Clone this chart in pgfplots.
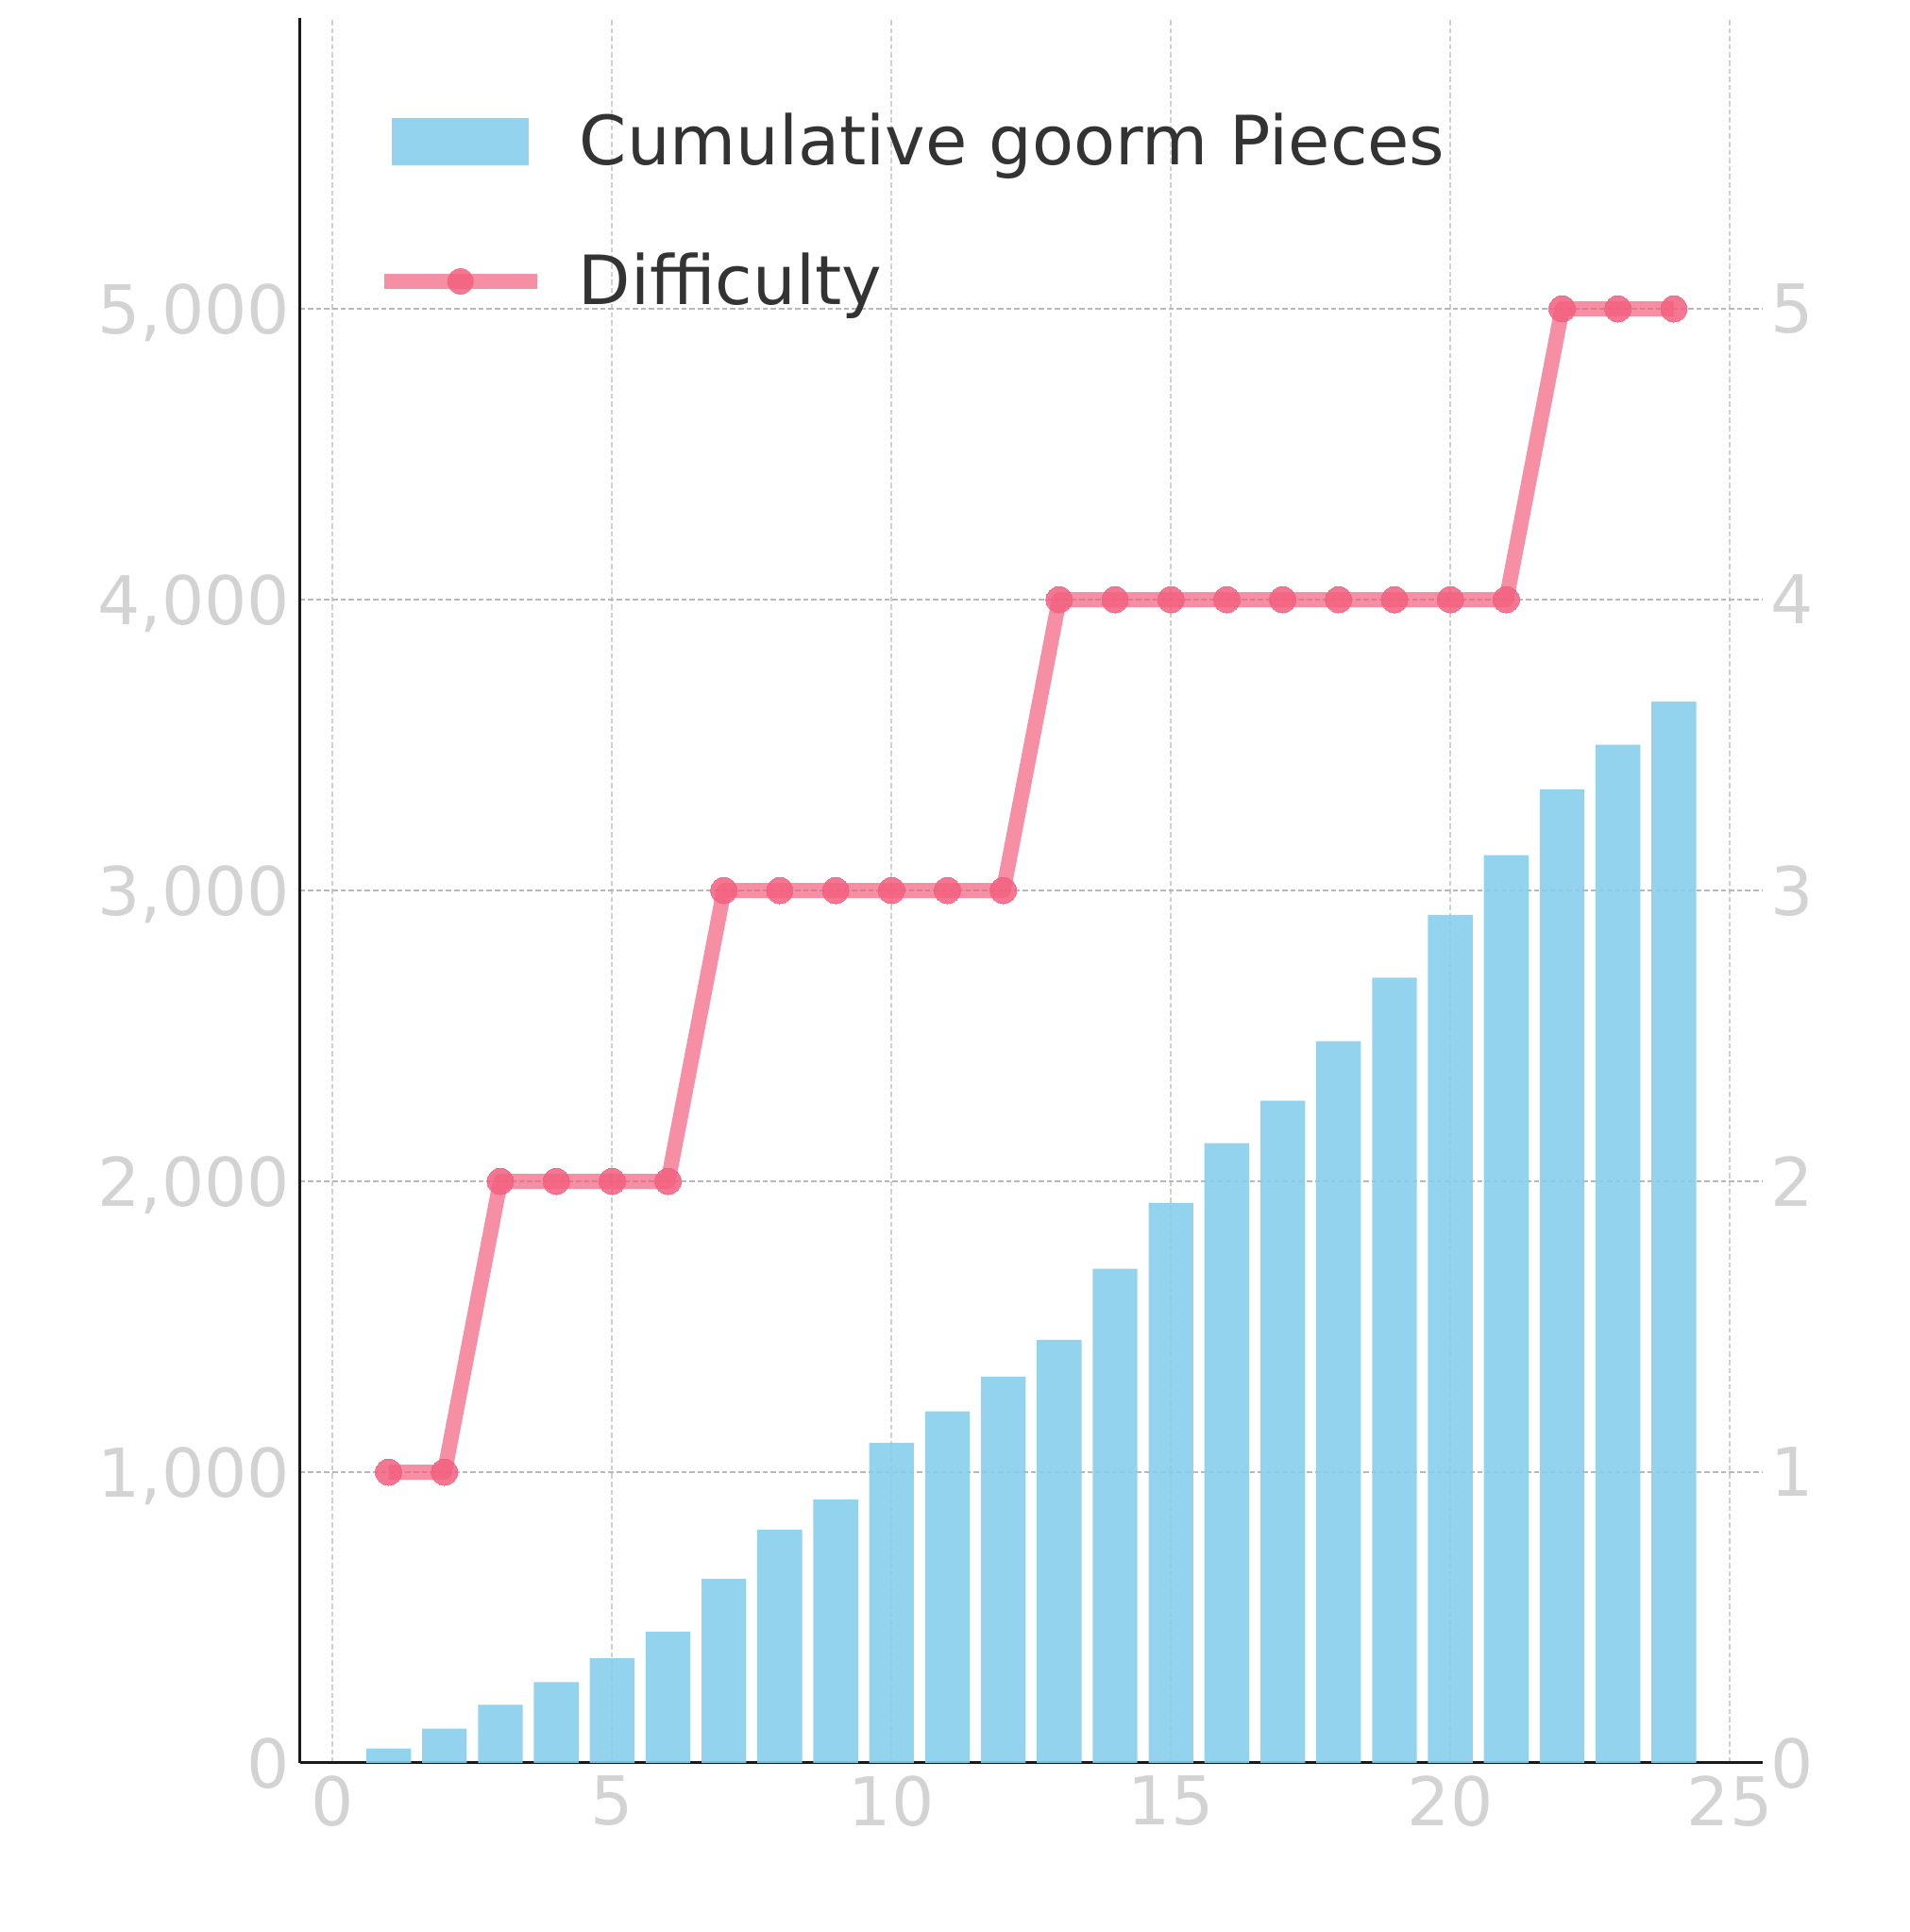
\documentclass[border=0pt]{standalone}
\usepackage{fontspec}
\setmainfont{DejaVu Sans}
\usepackage{pgfplots}
\pgfplotsset{compat=1.18}
\definecolor{barblue}{HTML}{87CEEB}
\definecolor{pinkc}{HTML}{F25F7E}
\definecolor{ticklbl}{HTML}{D3D3D3}
\definecolor{txt}{HTML}{333333}
\definecolor{vgrid}{HTML}{CFCFCF}
\definecolor{hgrid}{HTML}{B8B8B8}
\definecolor{spine}{HTML}{1A1A1A}
\begin{document}
\begin{tikzpicture}
\path[use as bounding box] (0,0) rectangle (505.75pt,511.5pt);
\pgfplotsset{
  common/.style={
    at={(79.375pt,44.75pt)}, anchor=south west,
    scale only axis, width=387.375pt, height=462pt,
    xmin=-0.59, xmax=25.59,
    major tick length=0pt,
    tick label style={font=\fontsize{17.8}{21}\selectfont, text=ticklbl},
    /pgf/number format/assume math mode=true,
  }
}
\begin{axis}[common,
  ymin=0, ymax=6000,
  axis x line*=bottom, axis y line*=left,
  axis line style={-, line width=0.75pt, draw=spine},
  xtick={0,5,...,25}, ytick={0,1000,...,5000},
  xmajorgrids, ymajorgrids,
  x grid style={vgrid, line width=0.5pt, dash pattern=on 1.4pt off 0.75pt},
  y grid style={hgrid, line width=0.5pt, dash pattern=on 1.4pt off 0.75pt},
  yticklabel style={anchor=east, inner sep=0pt, xshift=-2.4pt, text depth=0pt},
  xticklabel style={anchor=north, inner sep=0pt, yshift=-3.2pt},
  /pgf/number format/1000 sep={,},
  scaled y ticks=false,
  legend style={at={(0.0623,0.9291)}, anchor=west, draw=none, fill=none,
    inner sep=0pt, font=\fontsize{18}{21}\selectfont, text=txt,
    nodes={inner sep=0pt},
    /tikz/every odd column/.append style={column sep=13.5pt}},
  legend cell align=left,
]
\addplot[ybar, bar width=0.8, fill=barblue, fill opacity=0.9, draw=none,
  legend image code/.code={\fill[barblue, fill opacity=0.9] (0pt,-6.25pt) rectangle (36.25pt,6.25pt);}]
coordinates {
(1,50) (2,118) (3,200) (4,278) (5,360) (6,452) (7,633) (8,802) (9,906) (10,1100)
(11,1209) (12,1328) (13,1455) (14,1699) (15,1926) (16,2131) (17,2277) (18,2482)
(19,2700) (20,2916) (21,3121) (22,3348) (23,3501) (24,3650)
};
\addlegendentry{Cumulative goorm Pieces}
\end{axis}
\begin{axis}[common,
  ymin=0, ymax=6,
  axis x line=none, axis y line*=right,
  y axis line style={draw=none},
  ytick={0,1,2,3,4,5},
  yticklabel style={anchor=west, inner sep=0pt, xshift=2pt, text depth=0pt},
  legend style={at={(0.0519,0.8490)}, anchor=west, draw=none, fill=none,
    inner sep=0pt, font=\fontsize{18}{21}\selectfont, text=txt,
    nodes={inner sep=0pt},
    /tikz/every odd column/.append style={column sep=9pt}},
  legend cell align=left,
]
\addplot[pinkc, line width=4pt, draw opacity=0.7, line join=round,
  mark=*, mark size=3.5pt,
  mark options={draw=none, line width=0pt, fill=pinkc, fill opacity=0.85},
  legend image code/.code={\draw[pinkc, line width=4pt, draw opacity=0.7] (0pt,0pt) -- (40.5pt,0pt); \path[draw=none, line width=0pt, fill=pinkc, fill opacity=0.85] (20.25pt,0pt) circle[radius=3.5pt];}]
coordinates {
(1,1) (2,1) (3,2) (4,2) (5,2) (6,2) (7,3) (8,3) (9,3) (10,3) (11,3) (12,3)
(13,4) (14,4) (15,4) (16,4) (17,4) (18,4) (19,4) (20,4) (21,4) (22,5) (23,5) (24,5)
};
\addlegendentry{Difficulty}
\end{axis}
\end{tikzpicture}
\end{document}
